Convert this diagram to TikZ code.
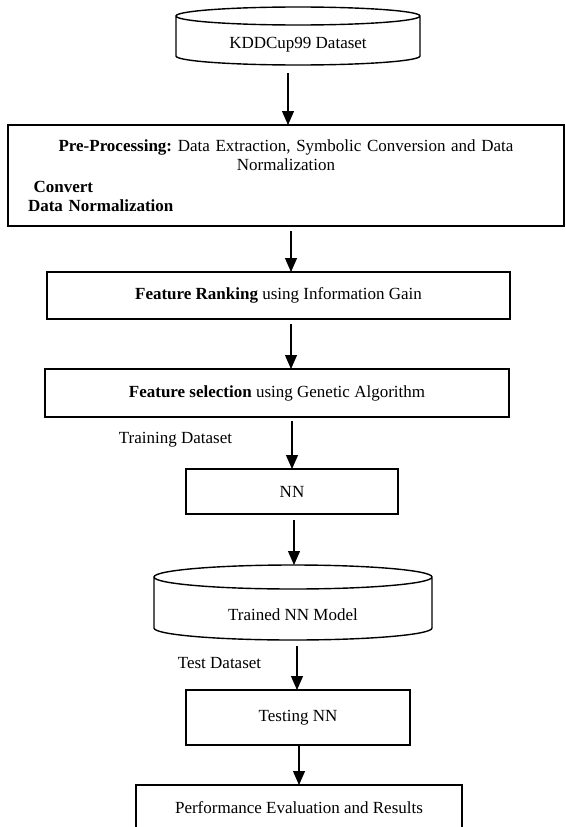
\documentclass[tikz,border=0pt]{standalone}
\usepackage{fontspec}
\setmainfont{Liberation Serif}
\usepackage{tikz}
\usetikzlibrary{arrows.meta, positioning}

\tikzset{
  box/.style={draw, rectangle, line width=1.4pt, inner sep=0pt, outer sep=0pt},
  drum/.style={rectangle, inner sep=0pt, outer sep=0pt},
  lbl/.style={inner sep=0pt},
  flow/.style={line width=1.2pt, -{Triangle[length=14pt,width=12pt]}}
}

\begin{document}
\frenchspacing
\begin{tikzpicture}[x=1pt, y=1pt, every node/.style={font=\fontsize{17}{19}\selectfont}]
  \useasboundingbox (0,0) rectangle (565,-827);

  % data stores (body only, outline drawn below)
  \node[drum, minimum width=244pt, minimum height=40pt] (ds) at (298,-45) {KDDCup99 Dataset};
  \node[drum, minimum width=278pt, minimum height=51pt] (trained) at (293,-614.5) {Trained NN Model};

  \foreach \n/\rx/\ry in {ds/122/9, trained/139/12}{
    \draw[line width=1.4pt] ([yshift=\ry pt]\n.north west) -- ([yshift=\ry pt]\n.south west)
      arc[start angle=180, end angle=360, x radius=\rx pt, y radius=\ry pt]
      -- ([yshift=\ry pt]\n.north east)
      arc[start angle=0, end angle=360, x radius=\rx pt, y radius=\ry pt];
  }
  \coordinate (trtop) at ([yshift=24pt]trained.north);

  % process boxes
  \node[box, text width=516pt, inner xsep=20pt, minimum height=101pt] (pre) at (286,-175.5)
    {\centering\textbf{Pre-Processing:} Data Extraction, Symbolic Conversion and Data\\
     Normalization\par\vspace{3pt}
     \raggedright\ \textbf{Convert}\\
     \textbf{Data Normalization}\par};
  \node[box, minimum width=463pt, minimum height=47pt] (rank) at (278.5,-295.5)
    {\textbf{Feature Ranking} using Information Gain};
  \node[box, minimum width=464pt, minimum height=48pt] (select) at (277,-393)
    {\textbf{Feature selection} using Genetic Algorithm};
  \node[box, minimum width=212pt, minimum height=45pt] (nn) at (292,-491.5) {NN};
  \node[box, minimum width=224pt, minimum height=55pt] (testing) at (298,-717.5) {Testing NN};
  \node[box, minimum width=326pt, minimum height=46pt] (perf) at (299,-808)
    {Performance Evaluation and Results};

  % side labels
  \node[lbl] (lbltrain) at (175.5,-440) {Training Dataset};
  \node[lbl] (lbltest) at (219.5,-663) {Test Dataset};

  % connectors
  \foreach \a/\b/\dx/\g in {ds/pre.north/-10/8, pre/rank.north/5/5, rank/select.north/12.5/5,
      select/nn.north/15/4, nn/trtop/2/6, trained/testing.north/4/6, testing/perf.north/1/0}{
    \draw[flow, shorten <=\g pt] ([xshift=\dx pt]\a.south) -- ([xshift=\dx pt]\a.south |- \b);
  }
\end{tikzpicture}
\end{document}
